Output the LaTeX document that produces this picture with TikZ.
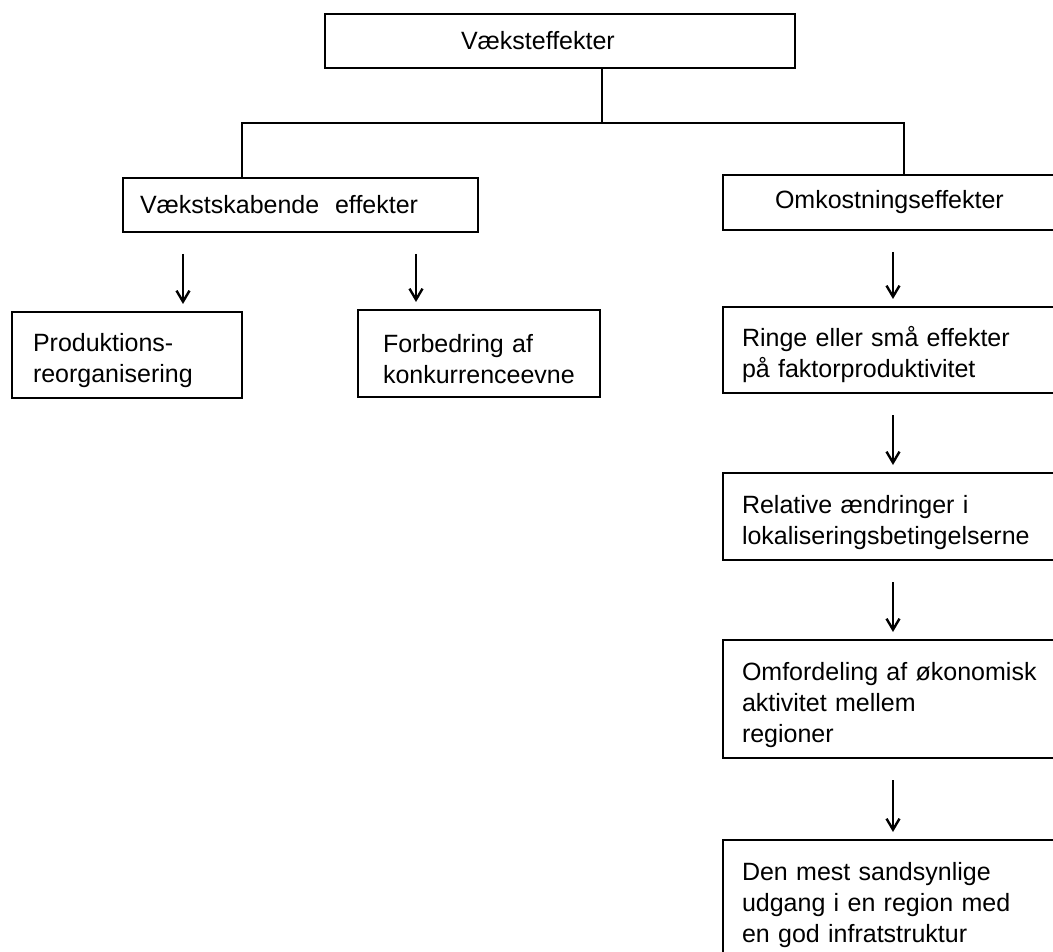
\documentclass[tikz,border=0pt]{standalone}
\usepackage{fontspec}
\setmainfont{Liberation Sans}
\usetikzlibrary{arrows.meta}
\begin{document}
\begin{tikzpicture}[x=1pt,y=-1pt,
  box/.style={draw, line width=2.4pt, rectangle, anchor=north west, align=left,
    font=\fontsize{25}{31}\selectfont, inner ysep=4pt, outer sep=0pt},
  multi/.style={execute at begin node={\rule{0pt}{30pt}}},
  conn/.style={line width=2.4pt},
  arr/.style={line width=2.4pt, shorten <=22pt, shorten >=8pt,
    -{Straight Barb[length=11pt,width=13pt,line width=2.4pt]}}
]
\useasboundingbox (0,0) rectangle (1053,952);
\clip (0,0) rectangle (1053,952);

\node[box, inner xsep=136pt, text width=198pt, minimum height=54pt] (top) at (325,14) {Væksteffekter};
\node[box, inner xsep=17pt, text width=321pt, minimum height=54pt] (vaekst) at (123,178) {Vækstskabende\hspace{0.3em} effekter};
\node[box, inner xsep=52pt, text width=300pt, minimum height=55pt] (omk) at (723,175) {Omkostningseffekter};

\node[box, multi, inner xsep=21pt, text width=188pt, minimum height=86pt] (prod) at (12,312) {Produktions-\\reorganisering};
\node[box, multi, inner xsep=25pt, text width=192pt, minimum height=87pt] (forb) at (358,310) {Forbedring af\\konkurrenceevne};

\node[box, multi, inner xsep=19pt, text width=320pt, minimum height=86pt] (ringe) at (723,307) {Ringe eller små effekter\\på faktorproduktivitet};
\node[box, multi, inner xsep=19pt, text width=320pt, minimum height=87pt] (rel) at (723,473) {Relative ændringer i\\lokaliseringsbetingelserne};
\node[box, multi, inner xsep=19pt, text width=320pt, minimum height=118pt] (omf) at (723,640) {Omfordeling af økonomisk\\aktivitet mellem\\regioner};
\node[box, multi, inner xsep=19pt, text width=320pt, minimum height=118pt] (den) at (723,840) {Den mest sandsynlige\\udgang i en region med\\en god infratstruktur};

% tree connectors
\draw[conn] ([xshift=277pt]top.south west) -- ++(0,55) -| ([xshift=119pt]vaekst.north west);
\draw[conn] ([xshift=277pt]top.south west) -- ++(0,55) -| ([xshift=181pt]omk.north west);

% arrows
\draw[arr] ([xshift=171pt]prod.north west |- vaekst.south) -- ([xshift=171pt]prod.north west);
\draw[arr] ([xshift=58pt]forb.north west |- vaekst.south) -- ([xshift=58pt]forb.north west);
\draw[arr] ([xshift=170pt]ringe.north west |- omk.south) -- ([xshift=170pt]ringe.north west);
\draw[arr] ([xshift=170pt]rel.north west |- ringe.south) -- ([xshift=170pt]rel.north west);
\draw[arr] ([xshift=170pt]omf.north west |- rel.south) -- ([xshift=170pt]omf.north west);
\draw[arr] ([xshift=170pt]den.north west |- omf.south) -- ([xshift=170pt]den.north west);
\end{tikzpicture}
\end{document}
